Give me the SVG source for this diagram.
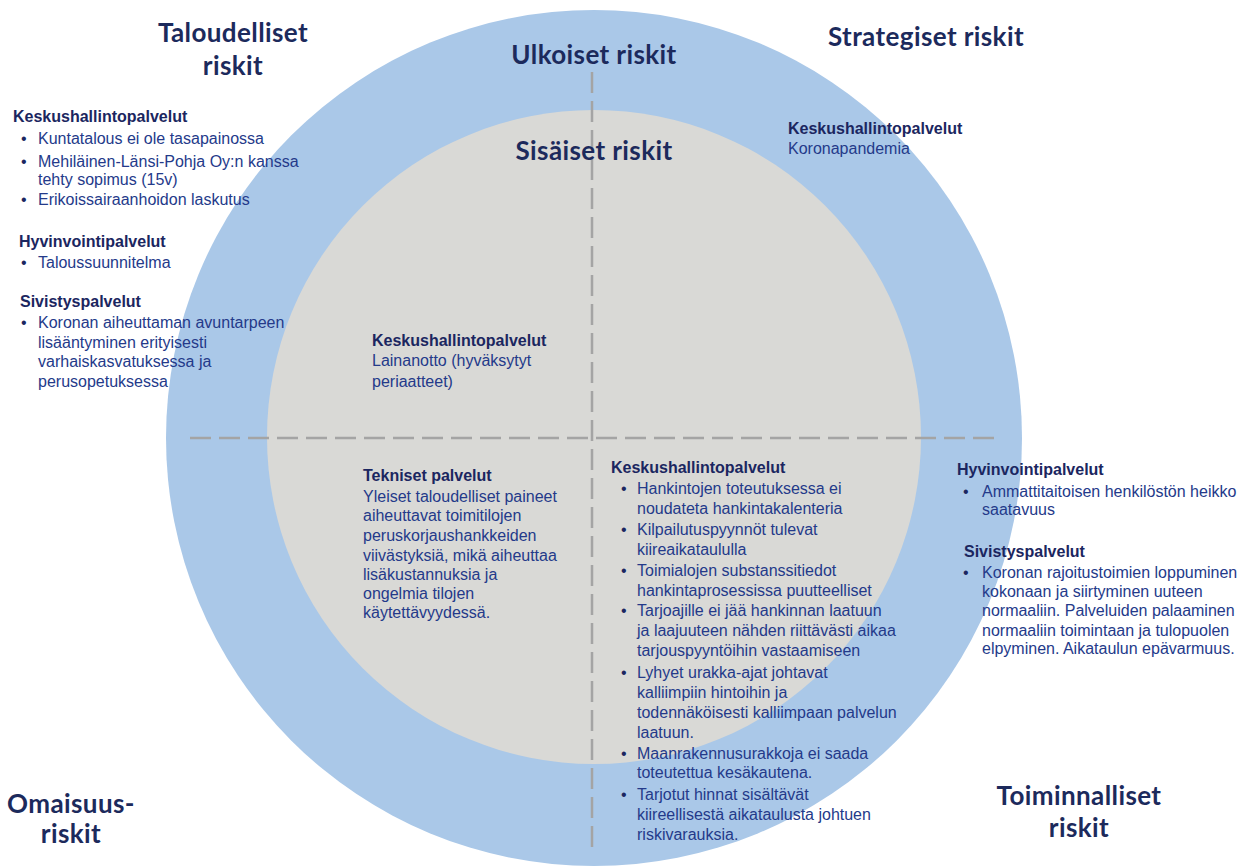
<svg xmlns="http://www.w3.org/2000/svg" width="1249" height="866" viewBox="0 0 1249 866">
<style>
.title{font-family:Lato,"Open Sans",sans-serif;font-weight:bold;font-size:26px;letter-spacing:0.4px;fill:#1c2a5c;text-anchor:middle}
.h{font-family:"Liberation Sans",Arial,sans-serif;font-weight:bold;font-size:16px;fill:#1b2660}
.t{font-family:"Liberation Sans",Arial,sans-serif;font-size:16px;fill:#243a8a}
.b{font-family:"Liberation Sans",Arial,sans-serif;font-size:16px;fill:#1b2660}
.dash{stroke:#a4a4a4;stroke-width:2.5;stroke-dasharray:21 8;fill:none}
</style>
<rect width="1249" height="866" fill="#ffffff"/>
<g id="outer-ring"><circle cx="594" cy="438" r="428" fill="#aac8e8"/></g>
<g id="inner-circle"><circle cx="594" cy="437" r="327" fill="#d9d9d6"/></g>
<g id="connectors">
<line class="dash" x1="592" y1="72" x2="592" y2="850"/>
<line class="dash" x1="190" y1="438" x2="1000" y2="438"/>
</g>
<g id="title-taloudelliset"><text class="title" x="233" y="42">Taloudelliset</text><text class="title" x="233" y="75">riskit</text></g>
<g id="title-ulkoiset"><text class="title" x="594" y="64">Ulkoiset riskit</text></g>
<g id="title-strategiset"><text class="title" x="926" y="46">Strategiset riskit</text></g>
<g id="title-sisaiset"><text class="title" x="594" y="160">Sisäiset riskit</text></g>
<g id="title-omaisuus"><text class="title" x="71" y="813">Omaisuus-</text><text class="title" x="71" y="843">riskit</text></g>
<g id="title-toiminnalliset"><text class="title" x="1079" y="805">Toiminnalliset</text><text class="title" x="1079" y="837">riskit</text></g>
<g id="block-taloudelliset">
<text class="h" x="13" y="122">Keskushallintopalvelut</text>
<text class="b" x="21" y="144">•</text><text class="t" x="38" y="144">Kuntatalous ei ole tasapainossa</text>
<text class="b" x="21" y="167">•</text><text class="t" x="38" y="167">Mehiläinen-Länsi-Pohja Oy:n kanssa</text>
<text class="t" x="38" y="185">tehty sopimus (15v)</text>
<text class="b" x="21" y="205">•</text><text class="t" x="38" y="205">Erikoissairaanhoidon laskutus</text>
<text class="h" x="19" y="247">Hyvinvointipalvelut</text>
<text class="b" x="21" y="268">•</text><text class="t" x="38" y="268">Taloussuunnitelma</text>
<text class="h" x="20" y="307">Sivistyspalvelut</text>
<text class="b" x="21" y="328">•</text><text class="t" x="38" y="328">Koronan aiheuttaman avuntarpeen</text>
<text class="t" x="38" y="348">lisääntyminen erityisesti</text>
<text class="t" x="38" y="367">varhaiskasvatuksessa ja</text>
<text class="t" x="38" y="387">perusopetuksessa</text>
</g>
<g id="block-strategiset">
<text class="h" x="788" y="134">Keskushallintopalvelut</text>
<text class="t" x="788" y="154">Koronapandemia</text>
</g>
<g id="block-sisaiset-top">
<text class="h" x="372" y="346">Keskushallintopalvelut</text>
<text class="t" x="372" y="366">Lainanotto (hyväksytyt</text>
<text class="t" x="372" y="387">periaatteet)</text>
</g>
<g id="block-tekniset">
<text class="h" x="363" y="481">Tekniset palvelut</text>
<text class="t" x="363" y="502">Yleiset taloudelliset paineet</text>
<text class="t" x="363" y="521">aiheuttavat toimitilojen</text>
<text class="t" x="363" y="541">peruskorjaushankkeiden</text>
<text class="t" x="363" y="561">viivästyksiä, mikä aiheuttaa</text>
<text class="t" x="363" y="580">lisäkustannuksia ja</text>
<text class="t" x="363" y="599">ongelmia tilojen</text>
<text class="t" x="363" y="618">käytettävyydessä.</text>
</g>
<g id="block-toiminnalliset-center">
<text class="h" x="611" y="473">Keskushallintopalvelut</text>
<text class="b" x="621" y="494">•</text><text class="t" x="637" y="494">Hankintojen toteutuksessa ei</text>
<text class="t" x="637" y="514">noudateta hankintakalenteria</text>
<text class="b" x="621" y="535">•</text><text class="t" x="637" y="535">Kilpailutuspyynnöt tulevat</text>
<text class="t" x="637" y="555">kiireaikataululla</text>
<text class="b" x="621" y="576">•</text><text class="t" x="637" y="576">Toimialojen substanssitiedot</text>
<text class="t" x="637" y="596">hankintaprosessissa puutteelliset</text>
<text class="b" x="621" y="616">•</text><text class="t" x="637" y="616">Tarjoajille ei jää hankinnan laatuun</text>
<text class="t" x="637" y="636">ja laajuuteen nähden riittävästi aikaa</text>
<text class="t" x="637" y="656">tarjouspyyntöihin vastaamiseen</text>
<text class="b" x="621" y="678">•</text><text class="t" x="637" y="678">Lyhyet urakka-ajat johtavat</text>
<text class="t" x="637" y="698">kalliimpiin hintoihin ja</text>
<text class="t" x="637" y="718">todennäköisesti kalliimpaan palvelun</text>
<text class="t" x="637" y="738">laatuun.</text>
<text class="b" x="621" y="759">•</text><text class="t" x="637" y="759">Maanrakennusurakkoja ei saada</text>
<text class="t" x="637" y="778">toteutettua kesäkautena.</text>
<text class="b" x="621" y="800">•</text><text class="t" x="637" y="800">Tarjotut hinnat sisältävät</text>
<text class="t" x="637" y="820">kiireellisestä aikataulusta johtuen</text>
<text class="t" x="637" y="840">riskivarauksia.</text>
</g>
<g id="block-toiminnalliset-right">
<text class="h" x="957" y="475">Hyvinvointipalvelut</text>
<text class="b" x="963" y="497">•</text><text class="t" x="982" y="497">Ammattitaitoisen henkilöstön heikko</text>
<text class="t" x="982" y="515">saatavuus</text>
<text class="h" x="964" y="557">Sivistyspalvelut</text>
<text class="b" x="963" y="578">•</text><text class="t" x="982" y="578">Koronan rajoitustoimien loppuminen</text>
<text class="t" x="982" y="597">kokonaan ja siirtyminen uuteen</text>
<text class="t" x="982" y="616">normaaliin. Palveluiden palaaminen</text>
<text class="t" x="982" y="636">normaaliin toimintaan ja tulopuolen</text>
<text class="t" x="982" y="654">elpyminen. Aikataulun epävarmuus.</text>
</g>
</svg>
